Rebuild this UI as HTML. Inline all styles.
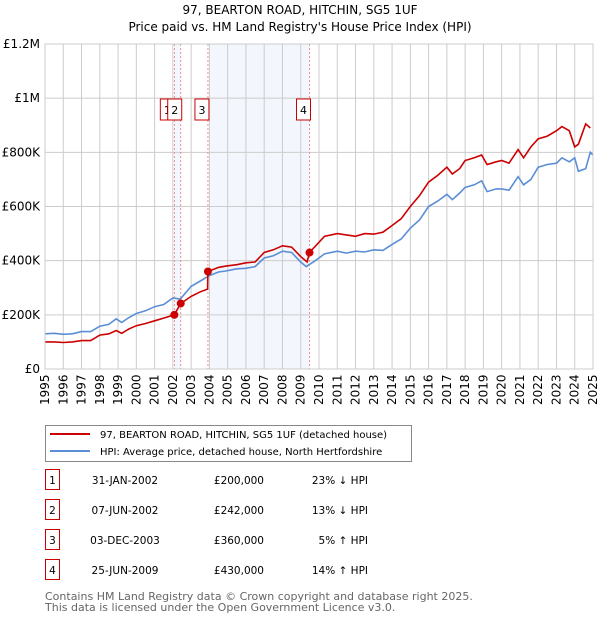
<!DOCTYPE html>
<html><head><meta charset="utf-8"><style>
body{margin:0;background:#fff;width:600px;height:620px;overflow:hidden;font-family:"DejaVu Sans","Liberation Sans",sans-serif}
</style></head><body>
<svg id="c" width="600" height="620" style="position:absolute;left:0;top:0;font-family:'DejaVu Sans','Liberation Sans',sans-serif"></svg>
<script>
const years=[1995,1996,1997,1998,1999,2000,2001,2002,2003,2004,2005,2006,2007,2008,2009,2010,2011,2012,2013,2014,2015,2016,2017,2018,2019,2020,2021,2022,2023,2024,2025];
const yTicks=[0,200000,400000,600000,800000,1000000,1200000];
const yTickLabels=["£0","£200K","£400K","£600K","£800K","£1M","£1.2M"];
const hpiDates=[1995,1995.5,1996,1996.5,1997,1997.5,1998,1998.5,1998.9,1999.2,1999.6,2000,2000.5,2001,2001.5,2002,2002.4,2003,2003.5,2004,2004.5,2004.9,2005.5,2006,2006.5,2007,2007.5,2008,2008.5,2009,2009.3,2009.8,2010.3,2011,2011.5,2012,2012.5,2013,2013.5,2014,2014.5,2015,2015.5,2016,2016.5,2017,2017.3,2017.7,2018,2018.5,2018.9,2019.2,2019.7,2020,2020.4,2020.9,2021.2,2021.6,2022,2022.5,2023,2023.3,2023.7,2024,2024.2,2024.6,2024.85,2025];
const hpiValues=[130,132,128,130,138,138,158,165,185,172,190,205,215,230,238,262,258,305,325,345,358,362,370,372,378,410,418,435,430,395,378,400,425,435,428,435,432,440,438,460,480,520,550,600,620,645,625,650,670,680,695,655,665,665,660,710,680,700,745,755,760,780,765,780,730,740,800,790];
const saleDates=[2002.08,2002.43,2003.92,2009.48];
const salePrices=[200000,242000,360000,430000];
const saleLabels=["1","2","3","4"];
const redDates=[1995,1995.5,1996,1996.5,1997,1997.5,1998,1998.5,1998.9,1999.2,1999.6,2000,2000.5,2001,2001.5,2002.08,2002.43,2003,2003.5,2003.9,2003.92,2004.5,2004.9,2005.5,2006,2006.5,2007,2007.5,2008,2008.5,2009,2009.35,2009.48,2010.3,2011,2011.5,2012,2012.5,2013,2013.5,2014,2014.5,2015,2015.5,2016,2016.5,2017,2017.3,2017.7,2018,2018.5,2018.9,2019.2,2019.7,2020,2020.4,2020.9,2021.2,2021.6,2022,2022.5,2023,2023.3,2023.7,2024,2024.2,2024.6,2024.85,2025];
const redValues=[100,100,98,100,105,105,125,130,142,132,148,160,168,178,188,200,242,268,285,295,360,375,380,385,392,395,430,440,455,450,415,395,430,490,500,495,490,500,498,505,530,555,600,640,690,715,745,720,740,770,780,790,755,765,770,760,810,780,820,850,860,880,895,880,820,830,905,890];
const ns="http://www.w3.org/2000/svg",svg=document.getElementById('c');
const X0=45,X1=593,Y0=369,Y1=44;
const xs=d=>X0+(d-1995)/30*(X1-X0);
const ys=v=>Y0-v/1200000*(Y0-Y1);
function el(t,a,p){const e=document.createElementNS(ns,t);for(const k in a)e.setAttribute(k,a[k]);(p||svg).appendChild(e);return e;}
function tx(x,y,s,a){const e=el('text',Object.assign({x:x,y:y,'font-size':12,fill:'#000'},a||{}));e.textContent=s;return e;}
let t=tx(300,14,"97, BEARTON ROAD, HITCHIN, SG5 1UF",{'text-anchor':'middle'});
t=tx(300,31,"Price paid vs. HM Land Registry's House Price Index (HPI)",{'text-anchor':'middle'});
let r=el('rect',{x:xs(saleDates[0]),y:Y1,width:xs(saleDates[1])-xs(saleDates[0]),height:Y0-Y1,fill:'#f3f6fd'});
r=el('rect',{x:xs(2004),y:Y1,width:xs(saleDates[3])-xs(2004),height:Y0-Y1,fill:'#f3f6fd'});
years.forEach(y=>{let l=el('line',{x1:xs(y),x2:xs(y),y1:Y1,y2:Y0,stroke:'#cccccc'});
 let g=tx(0,0,String(y),{'font-size':12,transform:`translate(${xs(y)+4},${Y0+36}) rotate(-90)`});});
yTicks.forEach((v,i)=>{let l=el('line',{x1:X0,x2:X1,y1:ys(v),y2:ys(v),stroke:'#cccccc'});
 let g=tx(X0-5,ys(v)+4,yTickLabels[i],{'text-anchor':'end'});});
saleDates.forEach((d,i)=>{let l=el('line',{x1:xs(d),x2:xs(d),y1:Y1,y2:Y0,stroke:'#ee7777','stroke-width':0.8,'stroke-dasharray':'2,2'});});
function path(ds,vs,c,n){let d=ds.map((x,i)=>(i?'L':'M')+xs(x).toFixed(1)+','+ys(vs[i]*1000).toFixed(1)).join('');let p=el('path',{d:d,fill:'none',stroke:c,'stroke-width':1.6});}
path(hpiDates,hpiValues,'#5b8ed6','hpi-line');
path(redDates,redValues,'#cc0000','price-paid-line');
saleDates.forEach((d,i)=>{let c=el('circle',{cx:xs(d),cy:ys(salePrices[i]),r:4,fill:'#cc0000'});
 let bx=(i==0?xs(d)-14:xs(d)-13);
 let b=el('rect',{x:bx,y:99,width:14,height:21,fill:'#fff',stroke:'#cc0000'});
 let g=tx(bx+7,114,saleLabels[i],{'text-anchor':'middle','font-size':11});});
let ax=el('rect',{x:X0,y:Y1,width:X1-X0,height:Y0-Y1,fill:'none',stroke:'#cccccc'});
let lg=el('rect',{x:45.5,y:425.5,width:366,height:36,fill:'#fff',stroke:'#888'});
let l1=el('line',{x1:50,x2:90,y1:434,y2:434,stroke:'#cc0000','stroke-width':2});
t=tx(100,438,"97, BEARTON ROAD, HITCHIN, SG5 1UF (detached house)",{'font-size':10});
l1=el('line',{x1:50,x2:90,y1:451,y2:451,stroke:'#5b8ed6','stroke-width':2});
t=tx(100,455,"HPI: Average price, detached house, North Hertfordshire",{'font-size':10});
const tDates=["31-JAN-2002","07-JUN-2002","03-DEC-2003","25-JUN-2009"];
const tPrices=["£200,000","£242,000","£360,000","£430,000"];
const tHpi=["23% ↓ HPI","13% ↓ HPI","5% ↑ HPI","14% ↑ HPI"];
tDates.forEach((d,i)=>{const y=483+i*30;
 let b=el('rect',{x:45.5,y:y-13.5,width:14,height:20,fill:'#fff',stroke:'#cc0000'});
 let g=tx(52.5,y+1,String(i+1),{'text-anchor':'middle','font-size':10.5});
 g=tx(125,y+1,d,{'text-anchor':'middle','font-size':10.5});
 g=tx(264,y+1,tPrices[i],{'text-anchor':'end','font-size':10.5});
 g=tx(368,y+1,tHpi[i],{'text-anchor':'end','font-size':10.5});});
t=tx(45,600,"Contains HM Land Registry data © Crown copyright and database right 2025.",{'font-size':11,fill:'#666'});
t=tx(45,611,"This data is licensed under the Open Government Licence v3.0.",{'font-size':11,fill:'#666'});
</script>
</body></html>
